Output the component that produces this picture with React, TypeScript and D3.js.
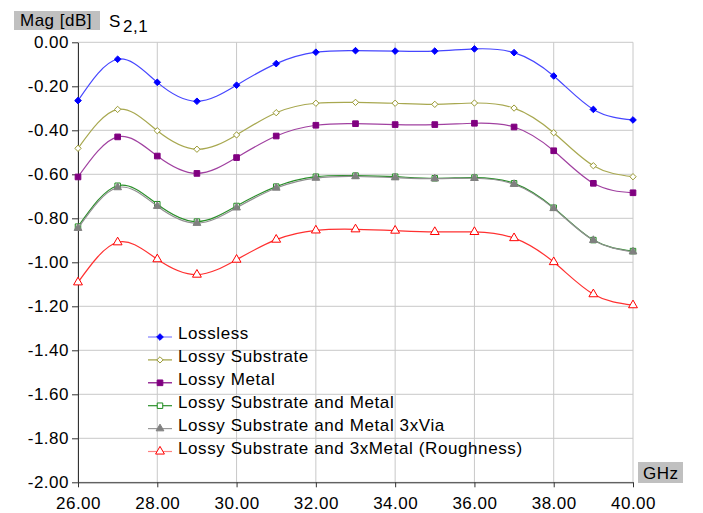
import React, { useEffect, useRef } from 'react';
import * as d3 from 'd3';

// frequency points (GHz)
const freqs = [26, 27, 28, 29, 30, 31, 32, 33, 34, 35, 36, 37, 38, 39, 40];

// S2,1 magnitude in dB
const lossless = [-0.265, -0.077, -0.182, -0.268, -0.195, -0.097, -0.045, -0.038, -0.04, -0.04, -0.03, -0.047, -0.153, -0.305, -0.353];
const lossySubstrate = [-0.482, -0.305, -0.402, -0.486, -0.421, -0.32, -0.277, -0.273, -0.277, -0.282, -0.276, -0.299, -0.411, -0.561, -0.611];
const lossyMetal = [-0.612, -0.43, -0.517, -0.596, -0.524, -0.426, -0.377, -0.37, -0.374, -0.374, -0.368, -0.385, -0.493, -0.641, -0.684];
const lossySubMetal = [-0.838, -0.652, -0.736, -0.815, -0.744, -0.656, -0.611, -0.606, -0.611, -0.618, -0.615, -0.641, -0.752, -0.899, -0.949];
const lossySubMetalVia = [-0.845, -0.66, -0.745, -0.822, -0.752, -0.662, -0.617, -0.61, -0.615, -0.62, -0.618, -0.645, -0.755, -0.9, -0.952];
const lossyRough = [-1.091, -0.909, -0.986, -1.056, -0.988, -0.897, -0.855, -0.85, -0.856, -0.862, -0.862, -0.89, -0.999, -1.145, -1.195];

const xTicks = [26, 28, 30, 32, 34, 36, 38, 40];
const yTicks = [0, -0.2, -0.4, -0.6, -0.8, -1.0, -1.2, -1.4, -1.6, -1.8, -2.0];

// square turned 45deg -> compact diamond like the original markers
const diamond = {
  draw(ctx: any, size: number) {
    const r = Math.sqrt(size / 2);
    ctx.moveTo(0, -r);
    ctx.lineTo(r, 0);
    ctx.lineTo(0, r);
    ctx.lineTo(-r, 0);
    ctx.closePath();
  },
};

const series = [
  { name: 'Lossless', values: lossless, color: '#0000ff', line: '#4646ff', legendLine: '#8080ff', shape: diamond, size: 22, filled: true },
  { name: 'Lossy Substrate', values: lossySubstrate, color: '#999933', line: '#a8a850', legendLine: '#a0a040', shape: diamond, size: 20, filled: false },
  { name: 'Lossy Metal', values: lossyMetal, color: '#800080', line: '#a040a0', legendLine: '#800080', shape: d3.symbolSquare, size: 32, filled: true },
  { name: 'Lossy Substrate and Metal', values: lossySubMetal, color: '#1e8c1e', line: '#2a8f2a', legendLine: '#2a8f2a', shape: d3.symbolSquare, size: 30, filled: false },
  { name: 'Lossy Substrate and Metal 3xVia', values: lossySubMetalVia, color: '#808080', line: '#909090', legendLine: '#999999', shape: d3.symbolTriangle, size: 26, filled: true },
  { name: 'Lossy Substrate and 3xMetal (Roughness)', values: lossyRough, color: '#ff0000', line: '#ff3030', legendLine: '#ff8080', shape: d3.symbolTriangle, size: 34, filled: false },
];

const W = 703;
const H = 513;
const FONT = "'Liberation Sans', Arial, sans-serif";

const App: React.FC = () => {
  const ref = useRef<SVGSVGElement | null>(null);

  useEffect(() => {
    if (!ref.current) return;
    const svg = d3.select(ref.current);
    svg.selectAll('*').remove();

    const left = 78;
    const right = 633;
    const top = 42.3;
    const bottom = 482.3;

    const x = d3.scaleLinear().domain([26, 40]).range([left, right]);
    const y = d3.scaleLinear().domain([-2, 0]).range([bottom, top]);

    // grid
    const grid = svg.append('g').attr('stroke', '#c8c8c8').attr('stroke-width', 1);
    xTicks.forEach((t) => {
      grid.append('line').attr('x1', x(t)).attr('x2', x(t)).attr('y1', top).attr('y2', bottom);
    });
    yTicks.forEach((t) => {
      grid.append('line').attr('x1', left).attr('x2', right).attr('y1', y(t)).attr('y2', y(t));
    });

    // axes
    const xAxis = svg
      .append('g')
      .attr('transform', `translate(0,${bottom})`)
      .call(d3.axisBottom(x).tickValues(xTicks).tickSize(5).tickPadding(10).tickFormat((d) => (+d).toFixed(2)).tickSizeOuter(0));
    const yAxis = svg
      .append('g')
      .attr('transform', `translate(${left},0)`)
      .call(d3.axisLeft(y).tickValues(yTicks).tickSize(6).tickPadding(3).tickFormat((d) => (+d).toFixed(2)).tickSizeOuter(0));
    [xAxis, yAxis].forEach((a) => {
      a.select('.domain').attr('stroke', '#333');
      a.selectAll('.tick line').attr('stroke', '#333');
      a.selectAll('text')
        .attr('fill', '#000')
        .style('font-family', FONT)
        .style('font-size', '17px')
        .style('letter-spacing', '0.5px');
    });

    // series
    const line = d3
      .line<number>()
      .x((_, i) => x(freqs[i]))
      .y((d) => y(d))
      .curve(d3.curveNatural);

    series.forEach((s) => {
      svg
        .append('path')
        .attr('d', line(s.values))
        .attr('fill', 'none')
        .attr('stroke', s.line)
        .attr('stroke-width', 1.2);
      const sym = d3.symbol().type(s.shape as any).size(s.size);
      svg
        .append('g')
        .selectAll('path')
        .data(s.values)
        .join('path')
        .attr('transform', (d, i) => `translate(${x(freqs[i])},${y(d)})`)
        .attr('d', sym as any)
        .attr('fill', s.filled ? s.color : '#fff')
        .attr('stroke', s.color)
        .attr('stroke-width', 1);
    });

    // legend
    const lg = svg.append('g');
    series.forEach((s, i) => {
      const ly = 337 + i * 22.9;
      lg.append('line')
        .attr('x1', 148)
        .attr('x2', 172)
        .attr('y1', ly)
        .attr('y2', ly)
        .attr('stroke', s.legendLine)
        .attr('stroke-width', 1.2);
      lg.append('path')
        .attr('transform', `translate(160,${ly})`)
        .attr('d', d3.symbol().type(s.shape as any).size(s.size)() as string)
        .attr('fill', s.filled ? s.color : '#fff')
        .attr('stroke', s.color);
      lg.append('text')
        .attr('x', 178)
        .attr('y', ly + 2)
        .text(s.name)
        .style('font-family', FONT)
        .style('font-size', '17px')
        .style('letter-spacing', '0.6px');
    });

    // header labels
    svg.append('rect').attr('x', 14).attr('y', 11).attr('width', 86).attr('height', 19).attr('fill', '#c0c0c0');
    svg.append('text').attr('x', 20).attr('y', 26).text('Mag [dB]')
      .style('font-family', FONT).style('font-size', '17px').style('letter-spacing', '0.5px');
    svg.append('text').attr('x', 109).attr('y', 27).text('S')
      .style('font-family', FONT).style('font-size', '17px');
    svg.append('text').attr('x', 123).attr('y', 32).text('2,1')
      .style('font-family', FONT).style('font-size', '17px').style('letter-spacing', '0.5px');

    svg.append('rect').attr('x', 638).attr('y', 462).attr('width', 45).attr('height', 21).attr('fill', '#c0c0c0');
    svg.append('text').attr('x', 643).attr('y', 479).text('GHz')
      .style('font-family', FONT).style('font-size', '17px').style('letter-spacing', '0.5px');
  }, []);

  return (
    <svg
      ref={ref}
      width={W}
      height={H}
      style={{ position: 'absolute', left: 0, top: 0, background: '#fff' }}
    />
  );
};

export default App;
